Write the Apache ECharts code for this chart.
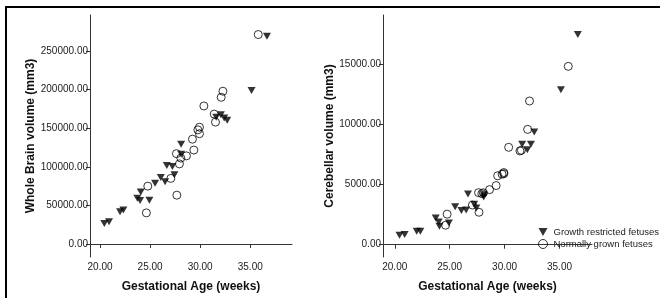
<!DOCTYPE html>
<html>
<head>
<meta charset="utf-8">
<script src="https://cdn.jsdelivr.net/npm/echarts@6/dist/echarts.min.js"></script>
<style>
    html, body { margin: 0; padding: 0; background: #fff; width: 660px; height: 298px; overflow: hidden; }
    #frame {
        position: absolute; left: 5px; top: 6px; width: 653px; height: 290px;
        border-left: 2px solid #000; border-top: 2px solid #000;
    }
    #chart { position: absolute; left: 0; top: 0; width: 660px; height: 298px; }
</style>
</head>
<body>
<div id="frame"></div>
<div id="chart"></div>
<script>
// gestational age (weeks) of each fetus, shared by both panels
const gaGrowthRestricted = [20.43, 20.9, 22.0, 22.33, 23.73, 24.0, 24.07, 24.93, 25.5, 26.07, 26.5,
    26.67, 27.23, 27.43, 28.1, 28.1, 31.6, 32.07, 32.4, 32.7, 35.13, 36.67];
const brainGrowthRestricted = [26700, 28750, 41700, 44200, 59200, 56300, 67500, 56700, 78800, 86300, 80800,
    101700, 100400, 89600, 129200, 116300, 164200, 167500, 163300, 160400, 198800, 269000];
const cerebGrowthRestricted = [790, 860, 1130, 1130, 2220, 1890, 1540, 1810, 3160, 2840, 2890,
    4220, 3360, 3050, 3970, 4160, 8350, 7890, 8350, 9380, 12890, 17480];

const gaNormal = [24.63, 24.77, 27.07, 27.67, 27.63, 27.93, 28.07, 28.63, 29.23, 29.37, 29.77,
    29.93, 29.93, 30.37, 31.4, 31.53, 32.1, 32.27, 35.8];
const brainNormal = [40400, 75000, 85000, 63300, 117100, 103800, 111300, 114200, 135800, 121700, 147900,
    151300, 142900, 178800, 168300, 157900, 190000, 197900, 271300];
const cerebNormal = [1620, 2540, 3300, 2700, 4330, 4250, 4320, 4580, 4920, 5730, 5870,
    6000, 5900, 8100, 7800, 7850, 9590, 11950, 14830];

const xTicks = [20, 25, 30, 35];
const brainTicks = [0, 50000, 100000, 150000, 200000, 250000];
const cerebTicks = [0, 5000, 10000, 15000];

const nameGR = 'Growth restricted fetuses';
const nameNG = 'Normally grown fetuses';

const font = 'Liberation Sans, Arial, sans-serif';
const zip = (xs, ys) => xs.map((x, i) => [x, ys[i]]);

const xAxisBase = (grid, min, max) => ({
    type: 'value', gridIndex: grid, min: min, max: max,
    name: 'Gestational Age (weeks)', nameLocation: 'middle', nameGap: 24,
    nameTextStyle: { fontFamily: font, fontSize: 12, fontWeight: 'bold', color: '#111' },
    splitLine: { show: false },
    axisLine: { lineStyle: { color: '#333', width: 1 } },
    axisTick: { customValues: xTicks, length: 4, lineStyle: { color: '#333' } },
    axisLabel: { customValues: xTicks, fontFamily: font, fontSize: 10, color: '#222', margin: 5,
        formatter: v => v.toFixed(2) }
});

const yAxisBase = (grid, min, max, ticks, name, gap) => ({
    type: 'value', gridIndex: grid, min: min, max: max,
    name: name, nameLocation: 'middle', nameGap: gap,
    nameTextStyle: { fontFamily: font, fontSize: 12, fontWeight: 'bold', color: '#111' },
    splitLine: { show: false },
    axisLine: { show: true, lineStyle: { color: '#333', width: 1 } },
    axisTick: { show: true, customValues: ticks, length: 4, lineStyle: { color: '#333' } },
    axisLabel: { customValues: ticks, fontFamily: font, fontSize: 10, color: '#222', margin: 2,
        formatter: v => v.toFixed(2) }
});

const triangle = (name, x, y, data) => ({
    name: name, type: 'scatter', xAxisIndex: x, yAxisIndex: y, data: data,
    symbol: 'triangle', symbolSize: [8, 7], symbolRotate: 180,
    itemStyle: { color: '#000' }
});

const circle = (name, x, y, data) => ({
    name: name, type: 'scatter', xAxisIndex: x, yAxisIndex: y, data: data,
    symbol: 'circle', symbolSize: 8,
    itemStyle: { color: 'rgba(255,255,255,0)', borderColor: '#000', borderWidth: 1 }
});

const chart = echarts.init(document.getElementById('chart'), null, { renderer: 'canvas' });
chart.setOption({
    animation: false,
    backgroundColor: 'transparent',
    grid: [
        { left: 90, top: 15, width: 202, height: 251 },
        { left: 383, top: 15, width: 209, height: 248 }
    ],
    xAxis: [
        xAxisBase(0, 19, 39.17),
        xAxisBase(1, 18.93, 37.96)
    ],
    yAxis: [
        yAxisBase(0, -16750, 296600, brainTicks, 'Whole Brain volume (mm3)', 50),
        yAxisBase(1, -1020, 19100, cerebTicks, 'Cerebellar volume (mm3)', 40)
    ],
    legend: {
        data: [
            { name: nameGR, icon: 'path://M0,0 L10,0 L5,9 Z', itemStyle: { color: '#000', borderWidth: 0 } },
            { name: nameNG, icon: 'circle',
              itemStyle: { color: 'rgba(255,255,255,0)', borderColor: '#000', borderWidth: 1 } }
        ],
        orient: 'vertical', left: 533, top: 222,
        itemWidth: 9, itemHeight: 9, itemGap: 2,
        textStyle: { fontFamily: font, fontSize: 9.5, color: '#222', padding: [0, 0, 0, 1] }
    },
    series: [
        triangle(nameGR, 0, 0, zip(gaGrowthRestricted, brainGrowthRestricted)),
        circle(nameNG, 0, 0, zip(gaNormal, brainNormal)),
        triangle(nameGR, 1, 1, zip(gaGrowthRestricted, cerebGrowthRestricted)),
        circle(nameNG, 1, 1, zip(gaNormal, cerebNormal))
    ]
});
</script>
</body>
</html>
